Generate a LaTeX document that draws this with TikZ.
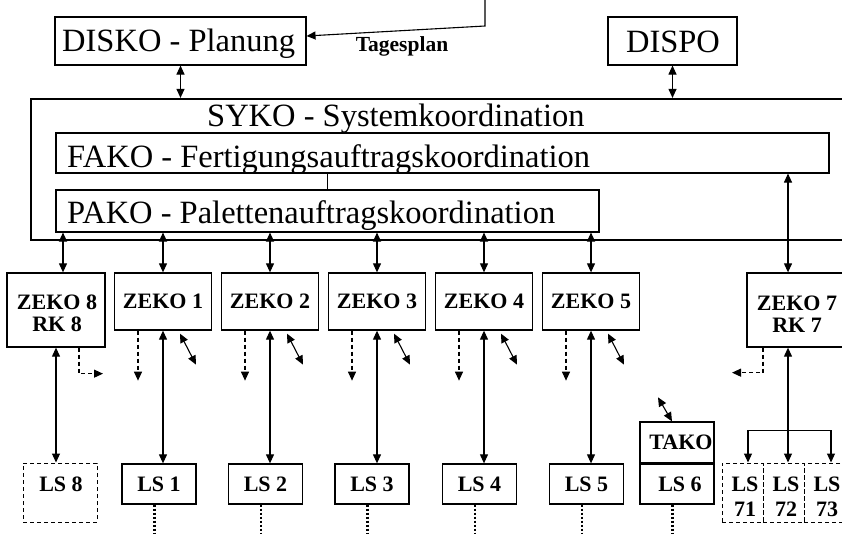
\documentclass[tikz,border=0pt]{standalone}
\usepackage{fontspec}
\setmainfont{Liberation Serif}
\usetikzlibrary{arrows.meta}
\begin{document}
\begin{tikzpicture}[x=1pt,y=-1pt,
  box/.style={draw, line width=1.1pt, inner sep=0pt, rectangle},
  zbox/.style={draw, line width=1.3pt, inner sep=0pt, rectangle, minimum width=97pt, minimum height=57pt, lab},
  lsbox/.style={draw, line width=1.3pt, inner sep=0pt, rectangle, minimum width=74pt, minimum height=40pt, lab},
  dbox/.style={draw, line width=1pt, dash pattern=on 4pt off 3pt, inner sep=0pt, rectangle},
  big/.style={font=\fontsize{32.5}{34}\selectfont, inner sep=0pt},
  lab/.style={font=\fontsize{22}{22}\selectfont\bfseries, inner sep=0pt, align=center},
  tip/.style={-{Triangle[length=9pt,width=8pt]}},
  dtip/.style={{Triangle[length=9pt,width=8pt]}-{Triangle[length=9pt,width=8pt]}},
  conn/.style={line width=1.1pt},
  dconn/.style={line width=1.1pt, dash pattern=on 4pt off 3pt},
  dotconn/.style={line width=2.2pt, dash pattern=on 2pt off 2pt}
]
\useasboundingbox (0,0) rectangle (842,533);
\clip (0,0) rectangle (842,533);

% top boxes
\node[box, minimum width=251pt, minimum height=48pt] (disko) at (180.5,41) {};
\node[big, anchor=base west] (diskoT) at (62,51) {DISKO - Planung};
\node[box, minimum width=129pt, minimum height=48pt] (dispo) at (672.5,41) {};
\node[big, anchor=base] (dispoT) at (673,52) {DISPO};
\node[font=\fontsize{21.5}{22}\selectfont\bfseries, inner sep=0pt] (tagT) at (402,46) {Tagesplan};

% system coordination
\node[box, line width=2.2pt, minimum width=819pt, minimum height=141pt] (syko) at (440.5,169.5) {};
\node[big, anchor=base west] (sykoT) at (207,126) {SYKO - Systemkoordination};
\node[box, minimum width=773pt, minimum height=40pt] (fako) at (442.5,153) {};
\node[big, anchor=base west] (fakoT) at (67,167) {FAKO - Fertigungsauftragskoordination};
\node[box, minimum width=543pt, minimum height=42pt] (pako) at (327.5,211) {};
\node[big, anchor=base west] (pakoT) at (67,223) {PAKO - Palettenauftragskoordination};

% ZEKO boxes
\node[zbox, minimum width=98pt, minimum height=74pt] (zeko8) at (56,310) {};
\node[lab] (zeko8T) at (57,313.5) {ZEKO 8\\RK 8};
\foreach \n/\x in {1/163,2/270,3/377,4/484,5/591}
  \node[zbox] (zeko\n) at (\x,301.5) {ZEKO \n};
\node[zbox, minimum width=98pt, minimum height=74pt] (zeko7) at (796,310) {};
\node[lab] (zeko7T) at (797,314) {ZEKO 7\\RK 7};

% LS boxes
\foreach \n/\x in {1/159,2/265.5,3/372,4/479.5,5/586.5}
  \node[lsbox] (ls\n) at (\x,484) {LS \n};
\node[lsbox, minimum height=41pt] (ls6) at (677,483.5) {};
\node[lab] (ls6T) at (680,484) {LS 6};
\node[box, line width=1.3pt, minimum width=74pt, minimum height=41pt] (tako) at (677,442.5) {};
\node[lab] (takoT) at (681,442) {TAKO};
\draw[line width=2.4pt] (tako.south west) -- (tako.south east);
\node[dbox, minimum width=74pt, minimum height=59pt] (ls8) at (60,492.5) {};
\node[lab] (ls8T) at (61,484) {LS 8};
\foreach \n/\x in {1/742.5,2/783.5,3/824.5}{
  \node[dbox, minimum width=41pt, minimum height=59pt] (ls7\n) at (\x,492.5) {};
  \node[lab, font=\fontsize{22}{25}\selectfont\bfseries] (ls7\n T) at (\x+2.5,497) {LS\\7\n};
}

% top connectors
\coordinate (tagin) at (485,0);
\draw[conn, tip] (tagin) -- ++(0,26) -- ([yshift=5pt]disko.east);
\draw[conn, dtip] (disko.south) -- (disko.south |- syko.north);
\draw[conn, dtip] (dispo.south) -- (dispo.south |- syko.north);
\draw[conn] (pako.north) -- (pako.north |- fako.south);

% SYKO - ZEKO
\foreach \n in {1,...,5}
  \draw[conn, dtip] (zeko\n.north) -- (zeko\n.north |- pako.south);
\draw[conn, dtip] ([xshift=7pt]zeko8.north) -- ([xshift=7pt]zeko8.north |- pako.south);
\draw[conn, dtip] ([xshift=-8pt]zeko7.north) -- ([xshift=-8pt]zeko7.north |- fako.south);

% ZEKO - LS
\foreach \n in {1,...,5}{
  \draw[conn, dtip] (zeko\n.south) -- (zeko\n.south |- ls\n.north);
  \coordinate (zd\n) at ([xshift=-25pt,yshift=-50pt]zeko\n.south);
  \draw[dconn, tip] ([xshift=-25pt]zeko\n.south) -- (zd\n);
  \coordinate (za\n) at ([xshift=17pt,yshift=-3pt]zeko\n.south);
  \coordinate (zb\n) at ([xshift=33pt,yshift=-34pt]zeko\n.south);
  \draw[conn, dtip] (za\n) -- (zb\n);
}
\draw[conn, dtip] (zeko8.south) -- (zeko8.south |- ls8.north);
\coordinate (z8d) at ([xshift=47pt,yshift=-26pt]zeko8.south);
\draw[dconn, tip] ([xshift=23pt]zeko8.south) |- (z8d);
\coordinate (z7d) at ([xshift=-64pt,yshift=-25pt]zeko7.south);
\draw[dconn, tip] ([xshift=-33pt]zeko7.south) |- (z7d);

\draw[conn, dtip] ([xshift=-8pt]zeko7.south) -- ([xshift=-8pt]zeko7.south |- ls72.north);
\coordinate (j7) at ([xshift=-8pt,yshift=-83pt]zeko7.south);
\draw[conn, tip] (j7) -| ([xshift=5.5pt]ls71.north);
\draw[conn, tip] (j7) -| ([xshift=6.5pt]ls73.north);

% TAKO
\coordinate (tk) at ([xshift=-19pt,yshift=24pt]tako.north);
\draw[conn, dtip] (tk) -- ([xshift=-5pt]tako.north);

% dotted continuation
\foreach \n in {1,...,6}{
  \coordinate (lsd\n) at ([xshift=-4.5pt,yshift=-32pt]ls\n.south);
  \draw[dotconn] ([xshift=-4.5pt]ls\n.south) -- (lsd\n);
}
\end{tikzpicture}
\end{document}
